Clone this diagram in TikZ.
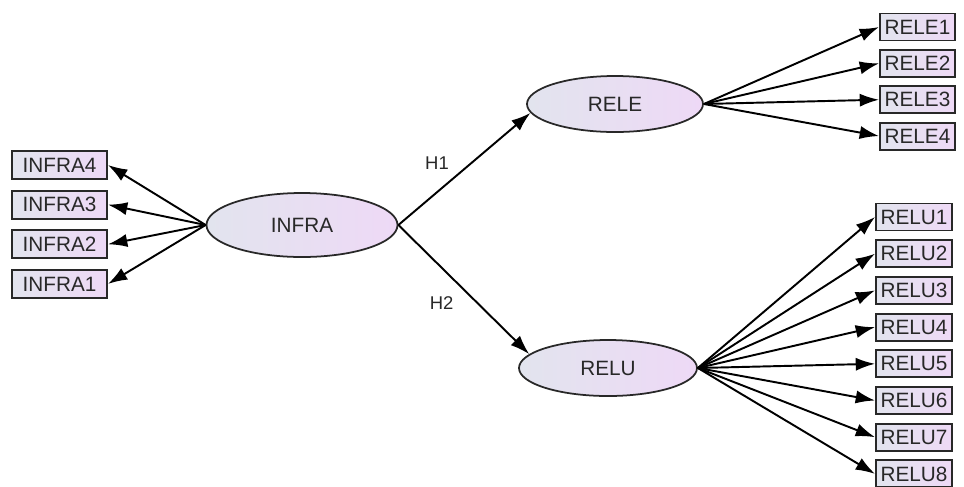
\documentclass[tikz,border=0pt]{standalone}
\usepackage{fontspec}
\setmainfont{Liberation Sans}
\usetikzlibrary{arrows.meta, shapes, positioning}

\definecolor{latL}{RGB}{226,228,238}
\definecolor{latR}{RGB}{238,217,246}
\definecolor{ink}{RGB}{40,40,40}

\begin{document}
\begin{tikzpicture}[on grid, line width=1.1pt, >={Latex[length=11pt,width=7.5pt]},
	latent/.style={ellipse, draw=ink, line width=1pt, left color=latL, right color=latR, text=ink, font=\fontsize{11.8}{14}\selectfont},
	item/.style={rectangle, draw=ink, line width=1.1pt, left color=latL, right color=latR, inner sep=0pt, minimum height=0.54cm, text=ink, font=\fontsize{11.8}{14}\selectfont},
	hyp/.style={text=ink, font=\fontsize{10.5}{12}\selectfont}]
	\useasboundingbox (0,0) rectangle (19.28,-9.72);
	
	\node[latent, minimum width=3.82cm, minimum height=1.28cm] (infra) at (6.04,-4.50) {INFRA};
	\node[latent, minimum width=3.52cm, minimum height=1.12cm] (rele) at (12.30,-2.08) {RELE};
	\node[latent, minimum width=3.56cm, minimum height=1.12cm] (relu) at (12.16,-7.36) {RELU};
	
	% infrastructure items
	\node[item, minimum width=1.9cm, minimum height=0.56cm] (infra4) at (1.19,-3.30) {INFRA4};
	\node[item, minimum width=1.9cm, minimum height=0.56cm, below=0.793cm of infra4] (infra3) {INFRA3};
	\node[item, minimum width=1.9cm, minimum height=0.56cm, below=0.793cm of infra3] (infra2) {INFRA2};
	\node[item, minimum width=1.9cm, minimum height=0.56cm, below=0.793cm of infra2] (infra1) {INFRA1};
	
	% RELE items
	\node[item, minimum width=1.5cm] (rele1) at (18.35,-0.54) {RELE1};
	\node[item, minimum width=1.5cm, below=0.727cm of rele1] (rele2) {RELE2};
	\node[item, minimum width=1.5cm, below=0.727cm of rele2] (rele3) {RELE3};
	\node[item, minimum width=1.5cm, below=0.727cm of rele3] (rele4) {RELE4};
	
	% RELU items
	\node[item, minimum width=1.52cm] (relu1) at (18.28,-4.34) {RELU1};
	\node[item, minimum width=1.52cm, below=0.734cm of relu1] (relu2) {RELU2};
	\node[item, minimum width=1.52cm, below=0.734cm of relu2] (relu3) {RELU3};
	\node[item, minimum width=1.52cm, below=0.734cm of relu3] (relu4) {RELU4};
	\node[item, minimum width=1.52cm, below=0.734cm of relu4] (relu5) {RELU5};
	\node[item, minimum width=1.52cm, below=0.734cm of relu5] (relu6) {RELU6};
	\node[item, minimum width=1.52cm, below=0.734cm of relu6] (relu7) {RELU7};
	\node[item, minimum width=1.52cm, below=0.734cm of relu7] (relu8) {RELU8};
	
	\path[->]
	(infra.east) edge node[hyp, pos=0.4, above left, xshift=2.5pt, yshift=2pt] {H1} (rele.186)
	(infra.east) edge node[hyp, pos=0.5, below left, xshift=-2pt] {H2} (relu.170)
	
	(infra.west) edge (infra4.east)
	(infra.west) edge (infra3.east)
	(infra.west) edge (infra2.east)
	(infra.west) edge (infra1.east)
	
	(rele.east) edge (rele1.west)
	(rele.east) edge (rele2.west)
	(rele.east) edge (rele3.west)
	(rele.east) edge (rele4.west)
	
	(relu.east) edge (relu1.west)
	(relu.east) edge (relu2.west)
	(relu.east) edge (relu3.west)
	(relu.east) edge (relu4.west)
	(relu.east) edge (relu5.west)
	(relu.east) edge (relu6.west)
	(relu.east) edge (relu7.west)
	(relu.east) edge (relu8.west)
	;
\end{tikzpicture}
\end{document}
